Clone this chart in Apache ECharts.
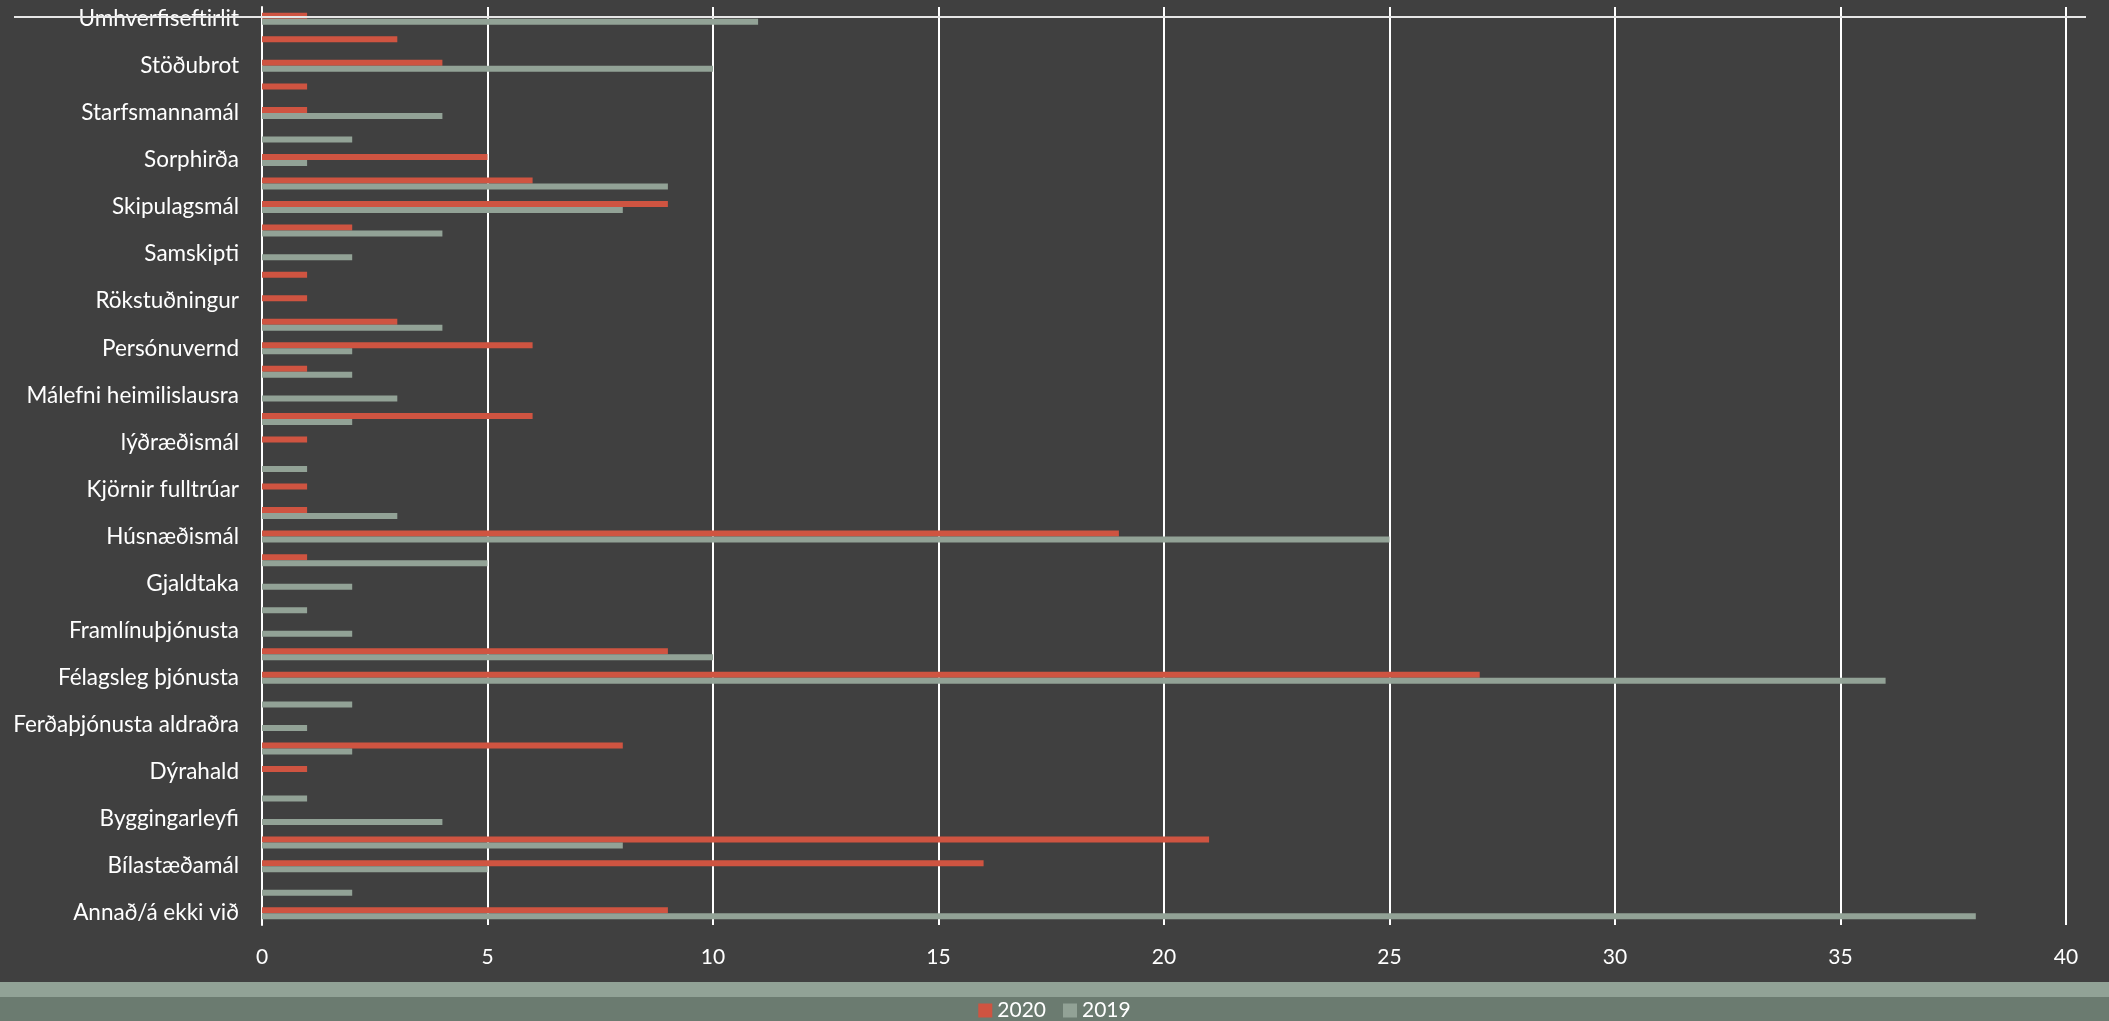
<!DOCTYPE html>
<html>
<head>
<meta charset="utf-8">
<script src="https://cdn.jsdelivr.net/npm/echarts@6/dist/echarts.min.js"></script>
<style>
html,body{margin:0;padding:0;background:#404040;}
#chart{width:2109px;height:1021px;}
</style>
</head>
<body>
<div id="chart"></div>
<script>
var categories = [
  'Annað/á ekki við', 'Barnavernd', 'Bílastæðamál', 'Borgarland', 'Byggingarleyfi',
  'Dagforeldrar', 'Dýrahald', 'Fatlað fólk', 'Ferðaþjónusta aldraðra', 'Ferðaþjónusta fatlaðra',
  'Félagsleg þjónusta', 'Fjárhagsaðstoð', 'Framlínuþjónusta', 'Frístundastarf', 'Gjaldtaka',
  'Grunnskólar', 'Húsnæðismál', 'Innkaup', 'Kjörnir fulltrúar', 'Leikskólar',
  'lýðræðismál', 'Málefni fatlaðs fólks', 'Málefni heimilislausra', 'Mannréttindamál', 'Persónuvernd',
  'Ráðningar', 'Rökstuðningur', 'Samgöngur', 'Samskipti', 'Skaðabætur',
  'Skipulagsmál', 'Snjómokstur', 'Sorphirða', 'Stafræn þjónusta', 'Starfsmannamál',
  'Stjórnsýsla', 'Stöðubrot', 'Tafir á svörum', 'Umhverfiseftirlit'
];
var values2020 = [9, 0, 16, 21, 0, 0, 1, 8, 0, 0, 27, 9, 0, 0, 0, 1, 19, 1, 1, 0, 1, 6, 0, 1, 6, 3, 1, 1, 0, 2, 9, 6, 5, 0, 1, 1, 4, 3, 1];
var values2019 = [38, 2, 5, 8, 4, 1, 0, 2, 1, 2, 36, 10, 2, 1, 2, 5, 25, 3, 0, 1, 0, 2, 3, 2, 2, 4, 0, 0, 2, 4, 8, 9, 1, 2, 4, 0, 10, 0, 11];
var seriesNames = ['2020', '2019'];
var xTicks = [0, 5, 10, 15, 20, 25, 30, 35, 40];

var chart = echarts.init(document.getElementById('chart'));
var font = 'Lato, "Open Sans", sans-serif';
chart.setOption({
  backgroundColor: '#404040',
  animation: false,
  textStyle: { fontFamily: font },
  grid: { left: 262, right: 43, top: 7, bottom: 96, containLabel: false },
  legend: {
    data: seriesNames,
    top: 995,
    left: 'center',
    itemWidth: 14,
    itemHeight: 14,
    itemGap: 17,
    icon: 'rect',
    textStyle: { color: '#ffffff', fontSize: 21, fontFamily: font }
  },
  graphic: [
    { type: 'rect', left: 0, top: 982, shape: { width: 2109, height: 15 }, style: { fill: '#91a296' }, z: -10 },
    { type: 'rect', left: 0, top: 997, shape: { width: 2109, height: 24 }, style: { fill: '#6b7b70' }, z: -10 },
    { type: 'line', shape: { x1: 14, y1: 17, x2: 2086, y2: 17 }, style: { stroke: '#e6e6e6', lineWidth: 2 }, z: 100 }
  ],
  xAxis: {
    type: 'value',
    min: xTicks[0],
    max: xTicks[xTicks.length - 1],
    interval: 5,
    axisLine: { show: false },
    axisTick: { show: false },
    axisLabel: { color: '#ffffff', fontSize: 21, margin: 22, fontFamily: font },
    splitLine: { show: true, lineStyle: { color: '#ffffff', width: 2 } }
  },
  yAxis: {
    type: 'category',
    data: categories,
    axisLine: { show: true, lineStyle: { color: '#ffffff', width: 2 } },
    axisTick: { show: false },
    axisLabel: { color: '#ffffff', fontSize: 22.5, margin: 23, interval: 1, fontFamily: font }
  },
  series: [
    { name: seriesNames[0], type: 'bar', data: values2020, barWidth: 6, barGap: '0%',
      itemStyle: { color: '#cf5441' } },
    { name: seriesNames[1], type: 'bar', data: values2019, barWidth: 6, barGap: '0%',
      itemStyle: { color: '#92a296' } }
  ]
});
</script>
</body>
</html>
